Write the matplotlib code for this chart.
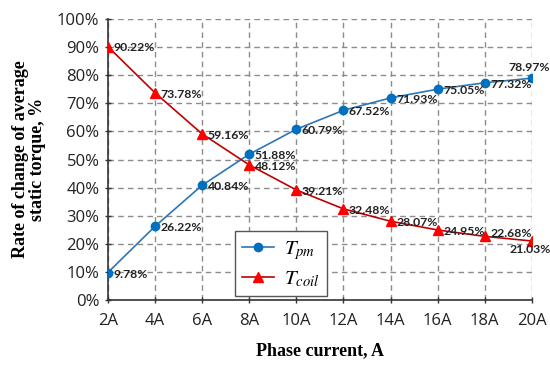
import matplotlib.pyplot as plt
from matplotlib.ticker import PercentFormatter

currents = [2, 4, 6, 8, 10, 12, 14, 16, 18, 20]
tick_labels = ["2A", "4A", "6A", "8A", "10A", "12A", "14A", "16A", "18A", "20A"]
t_pm = [9.78, 26.22, 40.84, 51.88, 60.79, 67.52, 71.93, 75.05, 77.32, 78.97]
t_coil = [90.22, 73.78, 59.16, 48.12, 39.21, 32.48, 28.07, 24.95, 22.68, 21.03]

plt.rcParams["mathtext.fontset"] = "stix"

fig = plt.figure(figsize=(5.5, 3.66), dpi=100)
ax = fig.add_axes([0.196, 0.180, 0.771, 0.768])

ax.plot(currents, t_pm, color="#2E75B6", lw=1.2, marker="o", ms=6,
        mfc="#0070C0", mec="#0070C0", label=r"$T_{pm}$", zorder=3)
ax.plot(currents, t_coil, color="#C00000", lw=1.2, marker="^", ms=7,
        mfc="#FF0000", mec="#FF0000", label=r"$T_{coil}$", zorder=3)

# value labels next to each point
lbl = dict(fontsize=8.8, fontweight="bold", color="#222222", family="Lato")
for i, (x, y) in enumerate(zip(currents, t_pm)):
    off, ha = (4, -1), "left"
    if i == len(currents) - 1:
        off, ha = (-2, 8), "center"
    ax.annotate(f"{y:.2f}%", (x, y), xytext=off, textcoords="offset points",
                ha=ha, va="center", clip_on=False, **lbl)
for i, (x, y) in enumerate(zip(currents, t_coil)):
    off, ha = (4, -1), "left"
    if i == 8:
        off = (4, 2)
    if i == len(currents) - 1:
        off, ha = (-1, -6), "center"
    ax.annotate(f"{y:.2f}%", (x, y), xytext=off, textcoords="offset points",
                ha=ha, va="center", clip_on=False, **lbl)

ax.set_xlim(2, 20)
ax.set_ylim(0, 100)
ax.set_xticks(currents)
ax.set_xticklabels(tick_labels)
ax.set_yticks(range(0, 101, 10))
ax.yaxis.set_major_formatter(PercentFormatter(decimals=0))
ax.tick_params(labelsize=12, length=4, width=1, color="#333333")
for t in ax.get_xticklabels() + ax.get_yticklabels():
    t.set_family("Open Sans")
    t.set_color("#222222")
ax.tick_params(axis="x", direction="inout", pad=7)
ax.tick_params(axis="y", direction="inout", pad=4)

ax.grid(True, ls=(0, (4, 3)), color="#8C8C8C", lw=1)
for s in ["top", "right"]:
    ax.spines[s].set_visible(False)
for s in ["left", "bottom"]:
    ax.spines[s].set_linewidth(1.2)
    ax.spines[s].set_color("#333333")

ax.set_xlabel("Phase current, A", family="Liberation Serif", fontweight="bold",
              fontsize=13, labelpad=10)
ax.set_ylabel("Rate of change of average\nstatic torque, %", family="Liberation Serif",
              fontweight="bold", fontsize=13, labelpad=8, linespacing=1.0)

leg = ax.legend(loc="lower left", bbox_to_anchor=(0.30, 0.015), fontsize=15,
                frameon=True, fancybox=False, edgecolor="#555555", framealpha=1,
                handlelength=1.5, handletextpad=0.5, borderpad=0.35,
                labelspacing=0.3, borderaxespad=0)
leg.get_frame().set_linewidth(1)

fig.savefig("out.png", dpi=100)
